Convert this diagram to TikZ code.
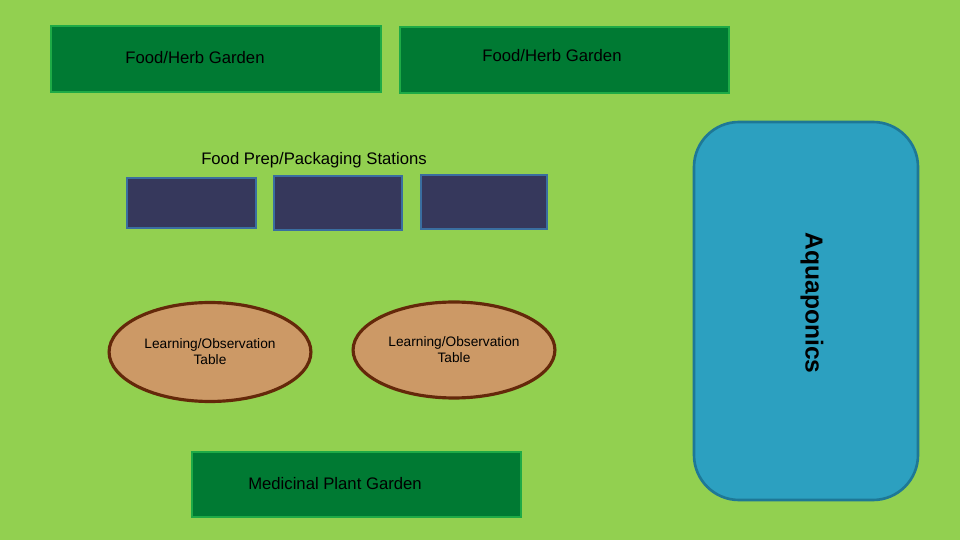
\documentclass[tikz,border=0pt]{standalone}
\usepackage{fontspec}
\setmainfont{Liberation Sans}
\usetikzlibrary{shapes.geometric}
\definecolor{grass}{RGB}{146,208,80}
\definecolor{bed}{RGB}{0,122,51}
\definecolor{bededge}{RGB}{30,170,70}
\definecolor{station}{RGB}{54,56,92}
\definecolor{stationedge}{RGB}{58,110,160}
\definecolor{water}{RGB}{44,160,192}
\definecolor{wateredge}{RGB}{30,120,150}
\definecolor{tabletop}{RGB}{204,153,102}
\definecolor{tableedge}{RGB}{100,40,10}
\tikzset{garden/.style={draw=bededge,fill=bed,line width=1.5pt},
  prep/.style={draw=stationedge,fill=station,line width=1pt},
  obs/.style={ellipse,draw=tableedge,fill=tabletop,line width=1.8pt,minimum width=3.52cm,minimum height=1.98cm,align=center,font=\fontsize{7.8}{9}\selectfont},
  lbl/.style={font=\fontsize{9.5}{11}\selectfont}}
\begin{document}
\begin{tikzpicture}[x=0.02cm,y=-0.02cm]
\fill[grass] (0,0) rectangle (960,540);
\draw[garden] (51,26) rectangle (381,92);
\node[lbl] (HerbA) at (195,58) {Food/Herb Garden};
\draw[garden] (400,27) rectangle (729,93);
\node[lbl] (HerbB) at (552,56) {Food/Herb Garden};
\node[lbl] (Prep) at (314,160) {Food Prep/Packaging Stations};
\draw[prep] (127,178) rectangle (256,228);
\draw[prep] (274,176) rectangle (402,230);
\draw[prep] (421,175) rectangle (547,229);
\draw[draw=wateredge,fill=water,line width=1.5pt,rounded corners=0.9cm] (694,122) rectangle (918,500);
\node[rotate=-90,font=\fontsize{14}{16}\selectfont\bfseries] (Aqua) at (812,303) {Aquaponics};
\node[obs] (TableA) at (210,352) {Learning/Observation\\Table};
\node[obs,minimum height=1.92cm] (TableB) at (454,350) {Learning/Observation\\Table};
\draw[garden] (192,452) rectangle (521,517);
\node[lbl] (Medic) at (335,484) {Medicinal Plant Garden};
\end{tikzpicture}
\end{document}
